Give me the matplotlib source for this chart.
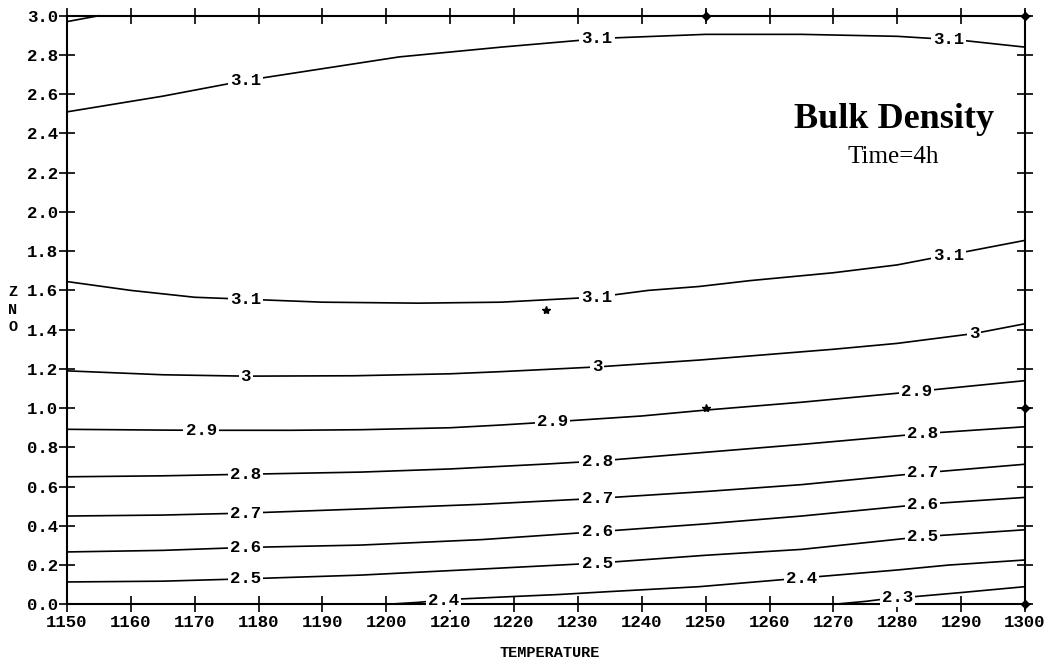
import numpy as np
import matplotlib.pyplot as plt

# contour lines: level -> (temperature, ZnO) points
levels = ['3.1', '3.1', '3.1', '3', '2.9', '2.8', '2.7', '2.6', '2.5', '2.4', '2.3']
temps = [
    [1150, 1155],
    [1150, 1165, 1178, 1190, 1202, 1218, 1234, 1250, 1265, 1280, 1290, 1300],
    [1150, 1160, 1170, 1178, 1190, 1205, 1218, 1233, 1241, 1249, 1257, 1270, 1280, 1288, 1300],
    [1150, 1165, 1178, 1195, 1210, 1218, 1233, 1249, 1257, 1270, 1280, 1292, 1300],
    [1150, 1165, 1171, 1185, 1196, 1210, 1218, 1226, 1240, 1250, 1265, 1283, 1300],
    [1150, 1165, 1178, 1196, 1210, 1225, 1233, 1250, 1265, 1284, 1300],
    [1150, 1165, 1178, 1196, 1215, 1233, 1250, 1265, 1284, 1300],
    [1150, 1165, 1178, 1196, 1215, 1233, 1250, 1265, 1284, 1300],
    [1150, 1165, 1178, 1196, 1215, 1233, 1250, 1265, 1284, 1300],
    [1200, 1205, 1210, 1220, 1227, 1235, 1249, 1265, 1280, 1288, 1300],
    [1270, 1275, 1280, 1283, 1290, 1300],
]
zno = [
    [2.97, 3.0],
    [2.51, 2.59, 2.67, 2.73, 2.79, 2.84, 2.885, 2.905, 2.905, 2.895, 2.875, 2.84],
    [1.645, 1.60, 1.565, 1.555, 1.54, 1.535, 1.54, 1.566, 1.60, 1.62, 1.65, 1.69, 1.73, 1.78, 1.855],
    [1.19, 1.17, 1.163, 1.165, 1.175, 1.186, 1.21, 1.245, 1.266, 1.30, 1.33, 1.38, 1.43],
    [0.892, 0.888, 0.887, 0.887, 0.89, 0.90, 0.914, 0.93, 0.96, 0.99, 1.03, 1.085, 1.14],
    [0.65, 0.655, 0.663, 0.674, 0.69, 0.715, 0.73, 0.775, 0.815, 0.87, 0.905],
    [0.45, 0.455, 0.465, 0.486, 0.51, 0.54, 0.575, 0.61, 0.67, 0.714],
    [0.267, 0.275, 0.29, 0.302, 0.33, 0.37, 0.41, 0.45, 0.51, 0.545],
    [0.114, 0.118, 0.13, 0.149, 0.18, 0.21, 0.25, 0.28, 0.345, 0.38],
    [0.0, 0.01, 0.025, 0.04, 0.05, 0.065, 0.09, 0.134, 0.175, 0.20, 0.226],
    [0.0, 0.015, 0.035, 0.04, 0.06, 0.09],
]
# where each contour label sits (per line)
label_x = [[], [1178, 1233, 1288], [1178, 1233, 1288], [1178, 1233, 1292],
           [1171, 1226, 1283], [1178, 1233, 1284], [1178, 1233, 1284],
           [1178, 1233, 1284], [1178, 1233, 1284], [1209, 1265], [1280]]

# design points
star_t = [1225, 1250]
star_z = [1.5, 1.0]
pt_t = [1250, 1300, 1300, 1300]
pt_z = [3.0, 3.0, 1.0, 0.0]

mono = 'Liberation Mono'

fig = plt.figure(figsize=(10.52, 6.66), dpi=100)
ax = fig.add_axes([0.0637, 0.0926, 0.9106, 0.8838])

for lev, t, z, lx in zip(levels, temps, zno, label_x):
    ax.plot(t, z, color='black', lw=1.2, clip_on=False)
    for xx in lx:
        yy = np.interp(xx, t, z)
        ax.text(xx, yy, lev, ha='center', va='center', fontsize=12.5, family=mono,
                fontweight='bold', zorder=5,
                bbox=dict(boxstyle='square,pad=0.12', fc='white', ec='none'))

ax.plot(star_t, star_z, '*', color='black', ms=6, zorder=6)
ax.plot(pt_t, pt_z, 'D', color='black', ms=4, clip_on=False, zorder=6)
ax.plot(pt_t, pt_z, '+', color='black', ms=9, mew=1.3, clip_on=False, zorder=6)

ax.set_xlim(1150, 1300)
ax.set_ylim(0, 3.0)
ax.set_xticks(np.arange(1150, 1301, 10))
ax.set_yticks(np.arange(0, 3.01, 0.2))
ax.set_yticklabels(['%.1f' % v for v in np.arange(0, 3.01, 0.2)])
ax.tick_params(direction='inout', length=11, width=1.2, top=True, right=True,
               labeltop=False, labelright=False)
ax.tick_params(axis='x', pad=2)
ax.tick_params(axis='y', pad=1)
for lbl in ax.get_xticklabels() + ax.get_yticklabels():
    lbl.set_family(mono)
    lbl.set_fontweight('bold')
    lbl.set_fontsize(12.5)
for s in ax.spines.values():
    s.set_linewidth(1.5)

fig.text(0.5222, 0.02, 'TEMPERATURE', ha='center', va='center', family=mono,
         fontweight='bold', fontsize=11)
fig.text(0.0124, 0.535, 'Z\nN\nO', ha='center', va='center', family=mono,
         fontweight='bold', fontsize=11, linespacing=1.3)

ax.text(0.863, 0.823, 'Bulk Density', transform=ax.transAxes, ha='center', va='center',
        family='Liberation Serif', fontweight='bold', fontsize=26)
ax.text(0.863, 0.76, 'Time=4h', transform=ax.transAxes, ha='center', va='center',
        family='Liberation Serif', fontsize=18)

fig.savefig('out.png', dpi=100)
